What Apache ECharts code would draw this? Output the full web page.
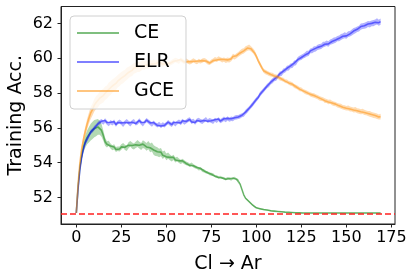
<!DOCTYPE html>
<html>
<head>
<meta charset="utf-8">
<script src="https://cdn.jsdelivr.net/npm/echarts@6/dist/echarts.min.js"></script>
<style>
html,body{margin:0;padding:0;background:#fff;}
#chart{width:416px;height:280px;}
</style>
</head>
<body>
<div id="chart"></div>
<script>
// ---- data ----
var seriesNames = ['CE', 'ELR', 'GCE'];
var xTicks = [0, 25, 50, 75, 100, 125, 150, 175];
var yTicks = [52, 54, 56, 58, 60, 62];
var baseline = 51.08;

var ceMean = [
51.10,52.60,53.70,54.40,54.90,55.20,55.45,55.60,55.75,55.85,
55.95,56.00,56.05,56.00,55.85,55.55,55.20,55.05,55.10,54.95,
54.85,54.90,54.75,54.80,54.78,54.90,54.98,54.88,54.82,55.00,
55.08,54.98,54.92,55.02,55.10,55.00,54.92,55.06,55.00,54.90,
55.00,54.85,54.90,54.72,54.65,54.62,54.55,54.60,54.42,54.50,
54.33,54.40,54.30,54.22,54.30,54.15,54.20,54.10,54.04,54.10,
54.02,53.95,53.92,53.84,53.90,53.82,53.75,53.72,53.64,53.66,
53.55,53.52,53.45,53.42,53.35,53.33,53.30,53.22,53.20,53.14,
53.18,53.12,53.10,53.04,53.10,53.08,53.02,53.10,53.12,53.04,
53.00,52.75,52.45,52.15,51.95,51.85,51.75,51.65,51.55,51.47,
51.40,51.37,51.35,51.32,51.30,51.28,51.27,51.25,51.23,51.22,
51.21,51.20,51.19,51.18,51.17,51.16,51.15,51.15,51.14,51.13,
51.13,51.12,51.12,51.11,51.11,51.10,51.10,51.10,51.10,51.10,
51.10,51.10,51.10,51.10,51.10,51.10,51.10,51.10,51.10,51.10,
51.10,51.10,51.10,51.10,51.10,51.10,51.10,51.10,51.10,51.10,
51.10,51.10,51.10,51.10,51.10,51.10,51.10,51.10,51.10,51.10,
51.10,51.10,51.10,51.10,51.10,51.10,51.10,51.10,51.10,51.10
];
var ceSpread = [
0.02,0.10,0.18,0.24,0.30,0.35,0.40,0.45,0.48,0.50,
0.50,0.48,0.45,0.40,0.36,0.30,0.24,0.18,0.15,0.14,
0.14,0.15,0.14,0.13,0.15,0.16,0.14,0.15,0.16,0.17,
0.16,0.18,0.17,0.18,0.20,0.19,0.20,0.22,0.21,0.22,
0.24,0.25,0.26,0.28,0.27,0.26,0.25,0.24,0.22,0.20,
0.19,0.18,0.17,0.16,0.15,0.14,0.13,0.13,0.12,0.12,
0.11,0.11,0.10,0.10,0.10,0.10,0.09,0.09,0.10,0.09,
0.09,0.09,0.08,0.08,0.08,0.08,0.08,0.07,0.07,0.07,
0.07,0.07,0.07,0.07,0.07,0.06,0.06,0.06,0.06,0.06,
0.06,0.06,0.06,0.05,0.05,0.05,0.05,0.05,0.05,0.05,
0.04,0.04,0.04,0.04,0.04,0.04,0.04,0.04,0.04,0.04,
0.03,0.03,0.03,0.03,0.03,0.03,0.03,0.03,0.03,0.03,
0.03,0.03,0.03,0.03,0.03,0.03,0.03,0.03,0.03,0.03,
0.03,0.03,0.03,0.03,0.03,0.03,0.03,0.03,0.03,0.03,
0.03,0.03,0.03,0.03,0.03,0.03,0.03,0.03,0.03,0.03,
0.03,0.03,0.03,0.03,0.03,0.03,0.03,0.03,0.03,0.03,
0.03,0.03,0.03,0.03,0.03,0.03,0.03,0.03,0.03,0.03
];

var elrMean = [
51.10,52.50,53.60,54.30,54.80,55.15,55.35,55.55,55.75,55.85,
55.98,56.10,56.22,56.32,56.38,56.30,56.42,56.30,56.20,56.32,
56.25,56.35,56.18,56.30,56.36,56.28,56.18,56.30,56.40,56.28,
56.20,56.32,56.38,56.24,56.30,56.42,56.30,56.20,56.32,56.44,
56.35,56.28,56.18,56.30,56.20,56.14,56.22,56.10,56.20,56.14,
56.22,56.32,56.24,56.18,56.30,56.20,56.30,56.36,56.28,56.40,
56.30,56.36,56.44,56.48,56.34,56.40,56.30,56.42,56.46,56.38,
56.34,56.42,56.50,56.38,56.44,56.40,56.34,56.46,56.40,56.50,
56.38,56.44,56.52,56.44,56.54,56.46,56.52,56.50,56.58,56.60,
56.62,56.66,56.72,56.76,56.90,57.00,57.12,57.24,57.36,57.50,
57.62,57.74,57.92,58.04,58.16,58.28,58.40,58.48,58.62,58.70,
58.80,58.84,58.96,59.10,59.12,59.26,59.30,59.42,59.44,59.56,
59.58,59.72,59.74,59.92,60.00,60.04,60.12,60.18,60.26,60.28,
60.42,60.44,60.52,60.54,60.62,60.66,60.68,60.78,60.80,60.86,
60.82,60.92,60.96,61.02,61.04,61.12,61.14,61.22,61.26,61.32,
61.28,61.38,61.40,61.48,61.56,61.60,61.66,61.70,61.82,61.84,
61.86,61.90,61.96,61.94,62.00,62.02,62.06,62.12,62.04,62.10
];
var elrSpread = [
0.02,0.08,0.12,0.14,0.15,0.15,0.15,0.14,0.14,0.13,
0.13,0.12,0.12,0.13,0.12,0.12,0.13,0.12,0.11,0.12,
0.12,0.13,0.12,0.11,0.12,0.12,0.13,0.12,0.11,0.12,
0.13,0.12,0.12,0.11,0.12,0.13,0.12,0.12,0.11,0.12,
0.12,0.13,0.12,0.12,0.11,0.12,0.12,0.13,0.12,0.12,
0.11,0.12,0.12,0.13,0.12,0.12,0.11,0.12,0.13,0.12,
0.12,0.11,0.12,0.12,0.13,0.12,0.12,0.11,0.12,0.12,
0.13,0.12,0.12,0.11,0.12,0.12,0.13,0.12,0.12,0.11,
0.12,0.12,0.13,0.12,0.12,0.12,0.13,0.12,0.12,0.13,
0.12,0.13,0.12,0.13,0.14,0.13,0.12,0.13,0.14,0.13,
0.13,0.12,0.14,0.13,0.13,0.12,0.13,0.14,0.13,0.14,
0.13,0.14,0.13,0.14,0.15,0.14,0.13,0.14,0.15,0.14,
0.14,0.15,0.14,0.15,0.14,0.15,0.14,0.15,0.16,0.15,
0.14,0.15,0.16,0.15,0.15,0.16,0.15,0.16,0.15,0.16,
0.16,0.15,0.16,0.17,0.16,0.15,0.16,0.17,0.16,0.17,
0.16,0.17,0.16,0.17,0.18,0.17,0.16,0.17,0.18,0.17,
0.17,0.18,0.17,0.18,0.17,0.18,0.17,0.18,0.17,0.18
];

var gceMean = [
51.10,52.80,54.00,54.80,55.35,55.80,56.20,56.55,56.85,57.05,
57.30,57.45,57.55,57.70,57.78,57.85,57.98,58.05,58.20,58.28,
58.40,58.48,58.55,58.68,58.75,58.85,58.92,59.00,59.10,59.18,
59.25,59.30,59.42,59.45,59.50,59.48,59.55,59.62,59.58,59.66,
59.62,59.70,59.66,59.74,59.68,59.72,59.78,59.70,59.66,59.74,
59.68,59.62,59.70,59.76,59.82,59.90,59.86,59.80,59.92,59.84,
59.78,59.86,59.80,59.74,59.80,59.88,59.82,59.76,59.84,59.80,
59.86,59.90,59.84,59.76,59.72,59.80,59.86,59.94,59.90,59.98,
59.94,59.88,59.92,59.86,59.90,59.88,59.96,60.10,60.06,60.14,
60.22,60.30,60.38,60.42,60.52,60.58,60.62,60.54,60.44,60.30,
60.10,59.86,59.66,59.46,59.28,59.20,59.16,59.10,59.06,59.04,
58.98,58.94,58.92,58.84,58.80,58.76,58.68,58.66,58.58,58.54,
58.50,58.40,58.36,58.30,58.22,58.20,58.12,58.06,58.02,57.98,
57.92,57.88,57.86,57.80,57.76,57.70,57.66,57.64,57.56,57.54,
57.48,57.50,57.42,57.38,57.36,57.30,57.26,57.24,57.18,57.16,
57.12,57.14,57.08,57.06,57.02,57.04,56.98,56.96,56.92,56.94,
56.88,56.86,56.82,56.80,56.76,56.72,56.70,56.66,56.62,56.64
];
var gceSpread = [
0.02,0.10,0.15,0.20,0.25,0.28,0.30,0.32,0.34,0.35,
0.36,0.37,0.38,0.38,0.39,0.40,0.39,0.38,0.40,0.39,
0.38,0.37,0.38,0.36,0.37,0.35,0.36,0.34,0.35,0.33,
0.32,0.33,0.31,0.30,0.29,0.28,0.27,0.26,0.25,0.24,
0.23,0.22,0.21,0.20,0.19,0.18,0.18,0.17,0.16,0.16,
0.15,0.15,0.14,0.14,0.14,0.13,0.13,0.13,0.12,0.12,
0.12,0.12,0.12,0.11,0.12,0.11,0.12,0.11,0.12,0.11,
0.12,0.11,0.12,0.12,0.11,0.12,0.12,0.13,0.12,0.13,
0.12,0.13,0.12,0.13,0.14,0.13,0.14,0.15,0.14,0.15,
0.14,0.15,0.16,0.15,0.16,0.15,0.16,0.15,0.14,0.15,
0.14,0.13,0.14,0.13,0.12,0.13,0.12,0.12,0.11,0.12,
0.11,0.12,0.11,0.12,0.11,0.12,0.11,0.12,0.11,0.12,
0.12,0.11,0.12,0.11,0.12,0.12,0.11,0.12,0.12,0.11,
0.12,0.12,0.13,0.12,0.12,0.13,0.12,0.12,0.13,0.12,
0.13,0.12,0.13,0.13,0.12,0.13,0.13,0.14,0.13,0.14,
0.13,0.14,0.14,0.13,0.14,0.15,0.14,0.15,0.14,0.15,
0.15,0.14,0.15,0.16,0.15,0.16,0.15,0.16,0.15,0.16
];

var colorsLine = ['rgba(0,128,0,0.5)', 'rgba(0,0,255,0.5)', 'rgba(255,140,0,0.5)'];
var colorsBand = ['rgba(0,128,0,0.3)', 'rgba(0,0,255,0.3)', 'rgba(255,140,0,0.3)'];
var means = [ceMean, elrMean, gceMean];
var spreads = [ceSpread, elrSpread, gceSpread];

// ---- build series ----
var series = [];
seriesNames.forEach(function (name, k) {
  var m = means[k], s = spreads[k];
  var line = m.map(function (v, i) { return [i, v]; });
  series.push({
    name: name + '_band', type: 'custom', silent: true, z: 2 + k * 2,
    coordinateSystem: 'cartesian2d',
    data: [[0, m[0]]],
    encode: { x: 0, y: 1 },
    clip: true,
    renderItem: function (params, api) {
      var pts = [];
      for (var i = 0; i < m.length; i++) pts.push(api.coord([i, m[i] + s[i]]));
      for (var j = m.length - 1; j >= 0; j--) pts.push(api.coord([j, m[j] - s[j]]));
      return { type: 'polygon', shape: { points: pts }, style: { fill: colorsBand[k], stroke: null } };
    }
  });
  series.push({
    name: name, type: 'line', data: line,
    showSymbol: false, symbol: 'none',
    lineStyle: { color: colorsLine[k], width: 1.6 },
    itemStyle: { color: colorsLine[k] },
    z: 3 + k * 2
  });
});
series.push({
  name: 'baseline', type: 'line', data: [], silent: true, z: 20,
  markLine: {
    silent: true, symbol: 'none', animation: false, label: { show: false },
    lineStyle: { color: '#ff2020', type: [6, 3], width: 1.5 },
    data: [{ yAxis: baseline }]
  }
});

var FONT = 'DejaVu Sans';
var chart = echarts.init(document.getElementById('chart'), null, { renderer: 'canvas' });
chart.setOption({
  animation: false,
  backgroundColor: '#fff',
  grid: { left: 61, right: 21, top: 6.5, bottom: 56, show: true, borderColor: '#222', borderWidth: 1, backgroundColor: 'transparent', containLabel: false, outerBoundsMode: 'none' },
  legend: {
    data: seriesNames.map(function (n, k) { return { name: n, icon: 'rect', itemStyle: { color: colorsLine[k] } }; }),
    left: 70, top: 16, orient: 'vertical',
    itemWidth: 42, itemHeight: 2, itemGap: 7,
    padding: [6, 12, 7, 7],
    backgroundColor: 'rgba(255,255,255,0.8)', borderColor: '#d0d0d0', borderWidth: 1, borderRadius: 4,
    textStyle: { fontFamily: FONT, fontSize: 19, color: '#000', lineHeight: 22, padding: [0, 0, 0, 10] },
    z: 30
  },
  xAxis: {
    type: 'value', min: -8.5, max: 177,
    name: 'Cl \u2192 Ar', nameLocation: 'middle', nameGap: 31, nameMoveOverlap: false,
    nameTextStyle: { fontFamily: FONT, fontSize: 19, color: '#000' },
    axisLine: { show: true, onZero: false, lineStyle: { color: '#222', width: 1 } },
    axisTick: { show: true, inside: false, length: 3.5, lineStyle: { color: '#222' }, customValues: xTicks },
    axisLabel: { fontFamily: FONT, fontSize: 16, color: '#000', margin: 6, customValues: xTicks },
    splitLine: { show: false }
  },
  yAxis: {
    type: 'value', min: 50.47, max: 62.97,
    name: 'Training Acc.', nameLocation: 'middle', nameGap: 35, nameMoveOverlap: false,
    nameTextStyle: { fontFamily: FONT, fontSize: 19, color: '#000' },
    axisLine: { show: true, onZero: false, lineStyle: { color: '#222', width: 1 } },
    axisTick: { show: true, inside: false, length: 3.5, lineStyle: { color: '#222' }, customValues: yTicks },
    axisLabel: { fontFamily: FONT, fontSize: 16, color: '#000', margin: 8, customValues: yTicks },
    splitLine: { show: false }
  },
  series: series
});
</script>
</body>
</html>
